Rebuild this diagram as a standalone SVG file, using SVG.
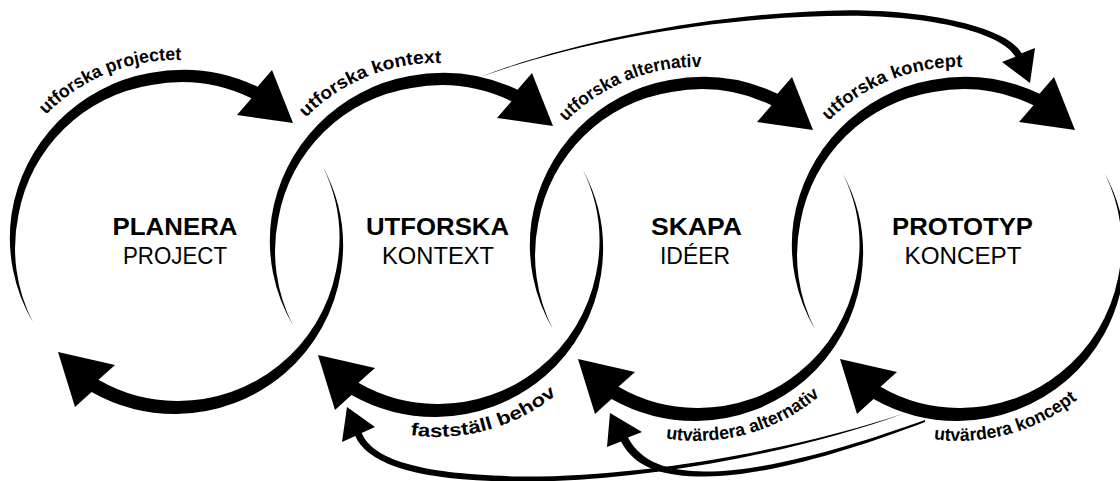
<svg xmlns="http://www.w3.org/2000/svg" width="1120" height="481" viewBox="0 0 1120 481">
<style>
  .ink{fill:#000;stroke:none}
  .title{font-family:"Liberation Sans",Arial,sans-serif;font-weight:bold;font-size:24px;text-anchor:middle;fill:#000}
  .sub{font-family:"Liberation Sans",Arial,sans-serif;font-size:24px;text-anchor:middle;fill:#000}
  .lbl{font-family:"Liberation Sans",Arial,sans-serif;font-weight:bold;font-size:18px;text-anchor:middle;fill:#000}
</style>
<defs>
  <g id="ring">
    <path class="ink" d="M33.1,322.5 A166,166 0 0 1 11.55,213.9 A170,170 0 0 1 149.6,73.1 A174,174 0 0 1 257.5,86.7 L272,70 L293,123 L237,115 L251.5,98.3 A161.5,161.5 0 0 0 151.5,85 A160,160 0 0 0 18.44,215.1 A162,162 0 0 0 33.1,322.5 Z"/>
    <path class="ink" d="M323,167.1 A166,166 0 0 1 340.96,271.99 A168,168 0 0 1 285.45,372.84 A170,170 0 0 1 176.5,414 A171,171 0 0 1 91.52,391.96 L75,407 L58,352 L115,365 L98.46,379.8 A158,158 0 0 0 176.5,401 A159,159 0 0 0 279.03,365.18 A161,161 0 0 0 336.04,271.12 A163,163 0 0 0 323,167.1 Z"/>
  </g>
  <path id="arcTop" d="M8,171.5 A183,183 0 0 1 248,74.5" fill="none"/>
  <path id="arcBot" d="M82.5,409.2 A191,191 0 0 0 342.7,337" fill="none"/>
</defs>
<rect width="1120" height="481" fill="#fff"/>

<g id="connectors">
  <path class="ink" d="M480,77 C580,39 720,12 850,10.2 C930,10.2 1008,27.5 1021.6,53.3 L1035,48 L1030,83 L1002,62 L1015.4,56.7 C1002,32.5 930,15.8 850,15.8 C720,16 580,41 480,77 Z"/>
  <path class="ink" d="M905,413 C800,449 640,477.5 520,476.5 C421,474.5 373,460 361.7,433.1 L375,427 L347,407 L342,442 L355.3,435.9 C367,464 419,481.5 520,481.5 C640,482.5 800,452 905,413 Z"/>
  <path class="ink" d="M925,420 C859,443.5 770,471.5 705,471.5 C667,471.5 641,462 628,437.6 L642,432 L610,413 L607,447 L621,441.4 C635,468 663,476.5 705,476.5 C770,476.5 861,446.5 925,422 Z"/>
</g>

<g id="node-planera">
  <g transform="translate(0,0)">
    <use href="#ring"/>
    <text class="lbl"><textPath href="#arcTop" startOffset="50%" textLength="150" lengthAdjust="spacingAndGlyphs">utforska projectet</textPath></text>
  </g>
  <text class="title" x="175" y="235" textLength="125" lengthAdjust="spacingAndGlyphs">PLANERA</text>
  <text class="sub" x="175" y="264" textLength="104" lengthAdjust="spacingAndGlyphs">PROJECT</text>
</g>

<g id="node-utforska">
  <g transform="translate(260,3)">
    <use href="#ring"/>
    <text class="lbl"><textPath href="#arcTop" startOffset="50%" textLength="150" lengthAdjust="spacingAndGlyphs">utforska kontext</textPath></text>
    <text class="lbl"><textPath href="#arcBot" startOffset="50%" textLength="156" lengthAdjust="spacingAndGlyphs">fastställ behov</textPath></text>
  </g>
  <text class="title" x="437.5" y="235" textLength="143" lengthAdjust="spacingAndGlyphs">UTFORSKA</text>
  <text class="sub" x="438" y="264" textLength="112" lengthAdjust="spacingAndGlyphs">KONTEXT</text>
</g>

<g id="node-skapa">
  <g transform="translate(520,7)">
    <use href="#ring"/>
    <text class="lbl"><textPath href="#arcTop" startOffset="50%" textLength="150" lengthAdjust="spacingAndGlyphs">utforska alternativ</textPath></text>
    <text class="lbl"><textPath href="#arcBot" startOffset="50%" textLength="165" lengthAdjust="spacingAndGlyphs">utvärdera alternativ</textPath></text>
  </g>
  <text class="title" x="696.5" y="235" textLength="91" lengthAdjust="spacingAndGlyphs">SKAPA</text>
  <text class="sub" x="695" y="264" textLength="70" lengthAdjust="spacingAndGlyphs">IDÉER</text>
</g>

<g id="node-prototyp">
  <g transform="translate(782,7)">
    <use href="#ring"/>
    <text class="lbl"><textPath href="#arcTop" startOffset="50%" textLength="148" lengthAdjust="spacingAndGlyphs">utforska koncept</textPath></text>
    <text class="lbl"><textPath href="#arcBot" startOffset="50%" textLength="153" lengthAdjust="spacingAndGlyphs">utvärdera koncept</textPath></text>
  </g>
  <text class="title" x="962.5" y="235" textLength="141" lengthAdjust="spacingAndGlyphs">PROTOTYP</text>
  <text class="sub" x="963" y="264" textLength="117" lengthAdjust="spacingAndGlyphs">KONCEPT</text>
</g>
</svg>
